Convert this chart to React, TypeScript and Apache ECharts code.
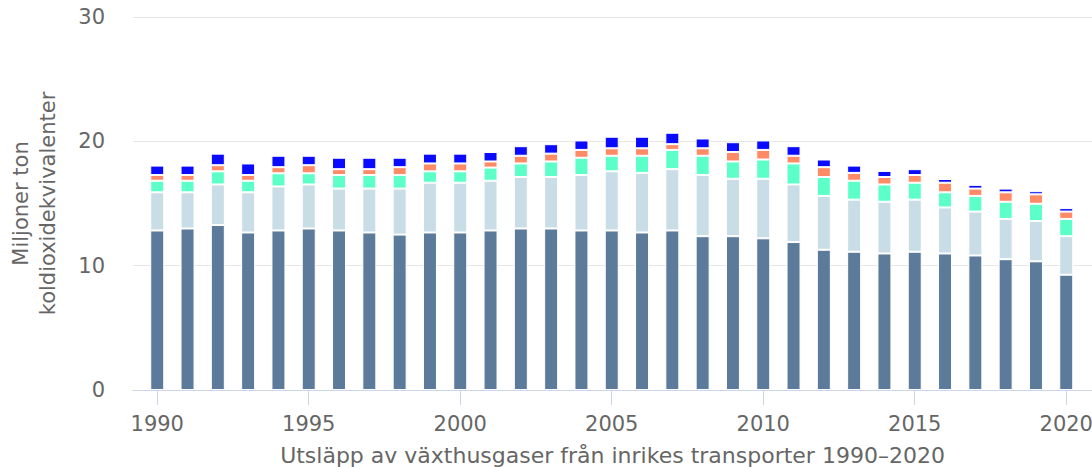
import React, { useEffect, useRef } from "react";
import * as echarts from "echarts";

const years = [
  1990, 1991, 1992, 1993, 1994, 1995, 1996, 1997, 1998, 1999, 2000, 2001, 2002, 2003, 2004, 2005,
  2006, 2007, 2008, 2009, 2010, 2011, 2012, 2013, 2014, 2015, 2016, 2017, 2018, 2019, 2020,
];
const tickYears = [1990, 1995, 2000, 2005, 2010, 2015, 2020];

const seriesA = [
  12.83, 12.99, 13.27, 12.67, 12.83, 12.99, 12.83, 12.67, 12.5, 12.67, 12.67, 12.83, 12.99, 12.99, 12.83, 12.83,
  12.67, 12.83, 12.37, 12.37, 12.2, 11.9, 11.28, 11.12, 10.98, 11.12, 10.98, 10.82, 10.52, 10.35, 9.27,
];
const seriesB = [
  3.07, 2.91, 3.26, 3.23, 3.54, 3.54, 3.37, 3.53, 3.7, 4.0, 4.0, 4.0, 4.14, 4.14, 4.46, 4.76,
  4.79, 4.93, 4.92, 4.62, 4.79, 4.63, 4.33, 4.19, 4.16, 4.19, 3.7, 3.53, 3.24, 3.24, 3.1,
];
const seriesC = [
  0.93, 0.93, 1.06, 0.93, 1.06, 0.9, 1.09, 1.09, 1.09, 0.92, 0.92, 1.06, 1.09, 1.25, 1.39, 1.25,
  1.38, 1.55, 1.55, 1.39, 1.55, 1.69, 1.52, 1.52, 1.39, 1.36, 1.22, 1.26, 1.38, 1.39, 1.39,
];
const seriesD = [
  0.46, 0.46, 0.49, 0.46, 0.49, 0.65, 0.47, 0.47, 0.63, 0.63, 0.63, 0.49, 0.62, 0.63, 0.63, 0.6,
  0.6, 0.46, 0.6, 0.76, 0.77, 0.62, 0.79, 0.63, 0.6, 0.62, 0.77, 0.59, 0.76, 0.76, 0.59,
];
const seriesE = [
  0.76, 0.76, 0.93, 0.93, 0.92, 0.76, 0.92, 0.92, 0.76, 0.79, 0.79, 0.76, 0.77, 0.76, 0.76, 0.93,
  0.93, 0.92, 0.79, 0.79, 0.76, 0.77, 0.62, 0.59, 0.49, 0.47, 0.3, 0.3, 0.3, 0.25, 0.28,
];

const seriesNames = ["Serie 1", "Serie 2", "Serie 3", "Serie 4", "Serie 5"];
const seriesValues = [seriesA, seriesB, seriesC, seriesD, seriesE];
const colors = ["#5c7b9b", "#c9dde6", "#5cffc8", "#ff8a66", "#0a0aff"];

const FONT = "'DejaVu Sans', sans-serif";
const TEXT = "#666666";

export default function App() {
  const ref = useRef<HTMLDivElement>(null);
  useEffect(() => {
    document.body.style.margin = "0";
    if (!ref.current) return;
    const chart = echarts.init(ref.current, null, { renderer: "svg" });
    chart.setOption({
      animation: false,
      textStyle: { fontFamily: FONT },
      grid: { left: 133, right: 0, top: 17, bottom: 77, containLabel: false, outerBoundsMode: "none" },
      xAxis: {
        type: "value",
        min: 1989.2,
        max: 2020.85,
        splitLine: { show: false },
        axisLine: { show: true, lineStyle: { color: "#ccd6eb", width: 1 } },
        axisTick: {
          show: true,
          length: 15,
          lineStyle: { color: "#ccd6eb" },
          customValues: tickYears,
        },
        axisLabel: {
          customValues: tickYears,
          fontSize: 21,
          color: TEXT,
          margin: 23,
          fontFamily: FONT,
          formatter: (v: number) => String(v),
        },
        name: "Utsläpp av växthusgaser från inrikes transporter 1990–2020",
        nameLocation: "middle",
        nameGap: 54,
        nameTextStyle: { fontSize: 22, color: TEXT, fontFamily: FONT },
      },
      yAxis: {
        type: "value",
        min: 0,
        max: 30,
        interval: 10,
        axisLine: { show: false },
        axisTick: { show: false },
        splitLine: { lineStyle: { color: "#e6e6e6", width: 1 } },
        axisLabel: { fontSize: 21, color: TEXT, margin: 28, fontFamily: FONT },
        name: "Miljoner ton\nkoldioxidekvivalenter",
        nameLocation: "middle",
        nameRotate: 90,
        nameGap: 72,
        nameTextStyle: { fontSize: 21, lineHeight: 27, color: TEXT, fontFamily: FONT },
      },
      series: seriesValues.map((vals, i) => ({
        name: seriesNames[i],
        type: "bar",
        stack: "total",
        barWidth: 14,
        encode: { x: 1, y: 0 },
        itemStyle: { color: colors[i], borderColor: "#ffffff", borderWidth: 1 },
        data: years.map((y, j) => [vals[j], y]),
      })),
    });
    return () => chart.dispose();
  }, []);
  return <div ref={ref} style={{ width: 1092, height: 467 }} />;
}
